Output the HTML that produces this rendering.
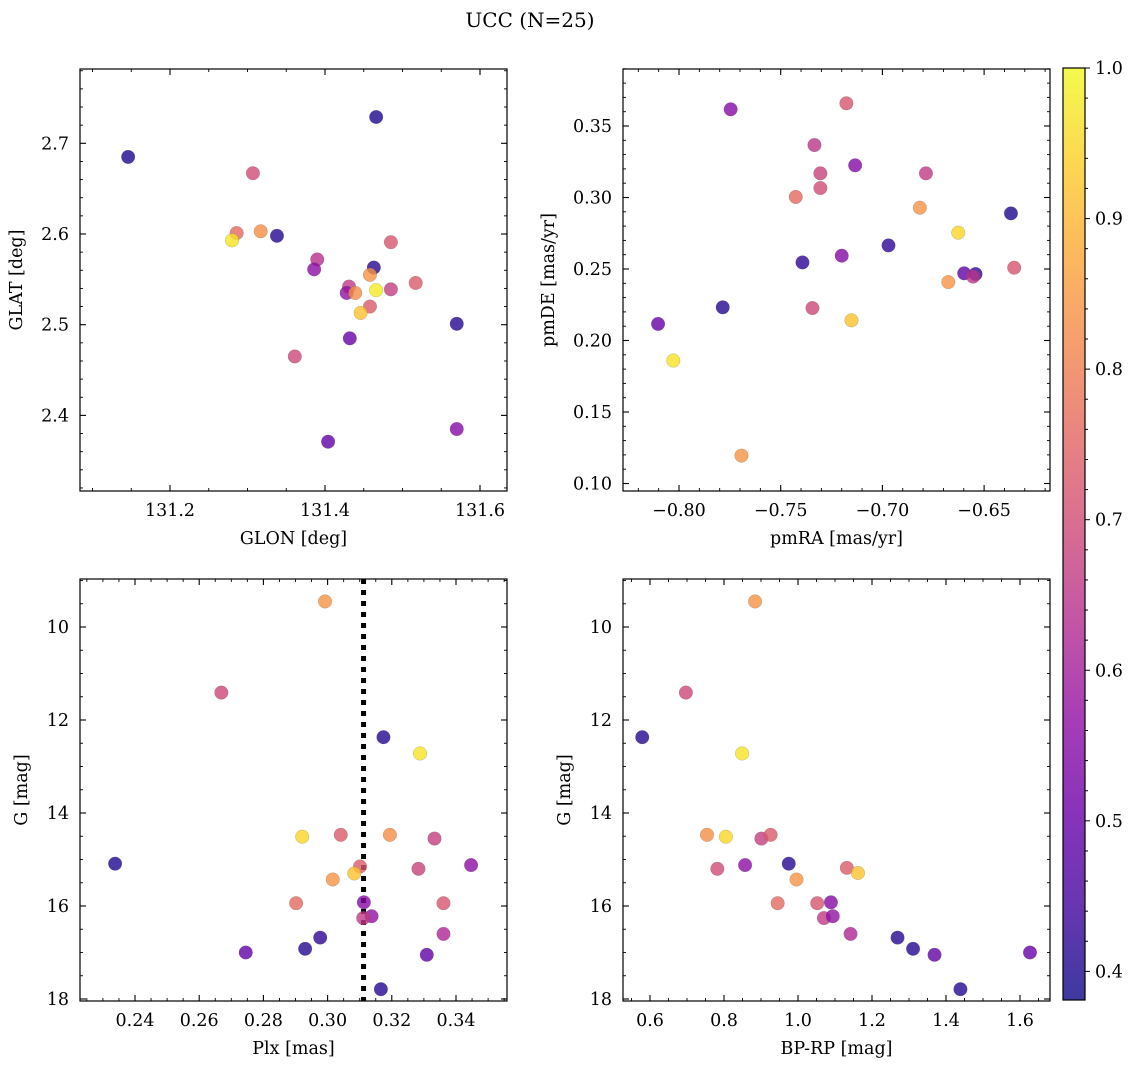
<!DOCTYPE html>
<html><head><meta charset="utf-8"><style>
body{margin:0;background:#fff;}
svg{display:block;font-family:"DejaVu Serif","Liberation Serif",serif;}
</style></head><body>
<svg id="fig" width="1136" height="1068" viewBox="0 0 1136 1068" xmlns="http://www.w3.org/2000/svg">
<text x="530" y="27" font-size="20" text-anchor="middle">UCC (N=25)</text>
<defs><linearGradient id="cbg" x1="0" y1="1" x2="0" y2="0"></linearGradient></defs>
</svg>
<script>
// Panel 1: GLON vs GLAT
const glon = [131.146,131.466,131.307,131.286,131.317,131.280,131.338,131.390,131.386,131.485,131.463,131.458,131.431,131.428,131.439,131.466,131.485,131.517,131.458,131.446,131.432,131.570,131.361,131.404,131.570];
const glat = [2.685,2.729,2.667,2.601,2.603,2.593,2.598,2.572,2.561,2.591,2.563,2.555,2.542,2.535,2.535,2.538,2.539,2.546,2.520,2.513,2.485,2.501,2.465,2.371,2.385];
const prob1 = [0.40,0.40,0.70,0.76,0.83,0.97,0.41,0.64,0.56,0.72,0.41,0.84,0.66,0.57,0.83,0.98,0.67,0.73,0.73,0.92,0.50,0.41,0.69,0.49,0.55];
// Panel 2: pmRA vs pmDE
const pmra = [-0.7746,-0.7177,-0.7334,-0.7134,-0.7305,-0.7305,-0.7426,-0.6786,-0.6816,-0.6368,-0.6627,-0.6970,-0.7200,-0.7393,-0.6598,-0.6542,-0.6554,-0.6352,-0.6676,-0.7785,-0.7344,-0.7152,-0.8103,-0.8028,-0.7693];
const pmde = [0.3617,0.3659,0.3367,0.3225,0.3169,0.3066,0.3004,0.3169,0.2929,0.2889,0.2754,0.2665,0.2593,0.2546,0.2470,0.2465,0.2447,0.2509,0.2409,0.2232,0.2227,0.2141,0.2116,0.1860,0.1195];
const prob2 = [0.55,0.72,0.65,0.55,0.68,0.70,0.76,0.66,0.84,0.40,0.95,0.42,0.55,0.42,0.49,0.42,0.65,0.72,0.84,0.41,0.69,0.92,0.50,0.97,0.84];
// Panel 3: Plx vs G
const plx = [0.2992,0.2669,0.3174,0.3288,0.2921,0.3041,0.3194,0.3333,0.2338,0.3101,0.3083,0.3283,0.3447,0.3016,0.2902,0.3113,0.3361,0.3137,0.3111,0.3361,0.2977,0.2930,0.2745,0.3309,0.3166];
const gmag3 = [9.45,11.41,12.37,12.72,14.51,14.47,14.47,14.55,15.09,15.15,15.30,15.20,15.12,15.43,15.94,15.92,15.94,16.22,16.26,16.60,16.68,16.92,17.00,17.05,17.79];
const prob3 = [0.84,0.69,0.41,0.97,0.95,0.73,0.83,0.67,0.40,0.73,0.92,0.68,0.56,0.84,0.76,0.55,0.72,0.57,0.66,0.62,0.42,0.41,0.49,0.49,0.41];
const plxRef = [0.3112];
// Panel 4: BP-RP vs G
const bprp = [0.884,0.697,0.579,0.849,0.754,0.805,0.901,0.926,0.782,0.857,0.975,1.132,1.162,0.996,0.945,1.052,1.089,1.070,1.094,1.142,1.269,1.311,1.369,1.627,1.439];
const gmag4 = [9.45,11.41,12.37,12.72,14.47,14.51,14.55,14.47,15.20,15.12,15.09,15.18,15.29,15.43,15.94,15.94,15.92,16.26,16.22,16.60,16.68,16.92,17.05,17.00,17.79];
const prob4 = [0.84,0.69,0.41,0.97,0.83,0.95,0.67,0.73,0.70,0.56,0.41,0.73,0.92,0.84,0.76,0.72,0.55,0.66,0.57,0.62,0.41,0.41,0.49,0.50,0.41];
// Tick labels
const ticks1x = [131.2,131.4,131.6], ticks1y = [2.4,2.5,2.6,2.7];
const ticks2x = [-0.80,-0.75,-0.70,-0.65], ticks2y = [0.10,0.15,0.20,0.25,0.30,0.35];
const ticks3x = [0.24,0.26,0.28,0.30,0.32,0.34], ticksGy = [10,12,14,16,18];
const ticks4x = [0.6,0.8,1.0,1.2,1.4,1.6];
const ticksCb = [0.4,0.5,0.6,0.7,0.8,0.9,1.0];
const VMIN = 0.381, VMAX = 1.0;

const NS = "http://www.w3.org/2000/svg";
const svg = document.getElementById('fig');
function mk(tag, attrs, parent){const e=document.createElementNS(NS,tag);for(const k in attrs)e.setAttribute(k,attrs[k]);(parent||svg).appendChild(e);return e;}

const stops=[[13,8,135],[65,4,157],[106,0,168],[143,13,164],[177,42,144],[204,71,120],[225,100,98],[242,132,75],[252,166,54],[252,206,37],[240,249,33]];
function plasma(v){let t=(v-VMIN)/(VMAX-VMIN);t=Math.max(0,Math.min(1,t))*10;const i=Math.min(9,Math.floor(t)),f=t-i;const a=stops[i],b=stops[i+1];return `rgb(${Math.round(a[0]+(b[0]-a[0])*f)},${Math.round(a[1]+(b[1]-a[1])*f)},${Math.round(a[2]+(b[2]-a[2])*f)})`;}

function fmt(v,d){return (v<0?'\u2212':'')+Math.abs(v).toFixed(d);}
const FS=17.5;

function panel(cfg){
  const g=mk('g',{});
  
  
  const {L,R,T,B,sx,sy}=cfg;
  const xmin=cfg.xmin,xmax=cfg.xmax,ymin=cfg.ymin,ymax=cfg.ymax;
  for(let v=Math.ceil(xmin/cfg.xminor-1e-9)*cfg.xminor; v<=xmax+1e-9; v+=cfg.xminor){const x=sx(v);if(x<L-0.5||x>R+0.5)continue;
    const isMaj=cfg.xt.some(m=>Math.abs(m-v)<cfg.xminor/10);const len=isMaj?6:3;
    const t1=mk('line',{x1:x,x2:x,y1:B,y2:B-len,stroke:'#000','stroke-width':isMaj?1.1:0.9},g);
    
    
    mk('line',{x1:x,x2:x,y1:T,y2:T+len,stroke:'#000','stroke-width':isMaj?1.1:0.9},g);}
  for(let v=Math.ceil(ymin/cfg.yminor-1e-9)*cfg.yminor; v<=ymax+1e-9; v+=cfg.yminor){const y=sy(v);if(y<T-0.5||y>B+0.5)continue;
    const isMaj=cfg.yt.some(m=>Math.abs(m-v)<cfg.yminor/10);const len=isMaj?6:3;
    const t2=mk('line',{x1:L,x2:L+len,y1:y,y2:y,stroke:'#000','stroke-width':isMaj?1.1:0.9},g);
    
    
    mk('line',{x1:R,x2:R-len,y1:y,y2:y,stroke:'#000','stroke-width':isMaj?1.1:0.9},g);}
  cfg.xt.forEach(v=>{const t=mk('text',{x:sx(v),y:B+25,'font-size':FS,'text-anchor':'middle'},g);t.textContent=fmt(v,cfg.xd);
    
    });
  cfg.yt.forEach(v=>{const t=mk('text',{x:L-11,y:sy(v)+6,'font-size':FS,'text-anchor':'end'},g);t.textContent=fmt(v,cfg.yd);
    
    });
  const xl=mk('text',{x:(L+R)/2,y:B+53,'font-size':FS,'text-anchor':'middle'},g);xl.textContent=cfg.xlabel;
  
  
  const yl=mk('text',{x:0,y:0,'font-size':FS,'text-anchor':'middle',transform:`translate(${cfg.ylx},${(T+B)/2}) rotate(-90)`},g);yl.textContent=cfg.ylabel;
  
  
  if(cfg.vline){cfg.vline.forEach(v=>{const l=mk('line',{x1:sx(v),x2:sx(v),y1:T,y2:B,stroke:'#000','stroke-width':5,'stroke-dasharray':'5,6'},g);
    
    });}
  cfg.xs.forEach((xv,i)=>{const c=mk('circle',{cx:sx(xv),cy:sy(cfg.ys[i]),r:6.8,fill:plasma(cfg.cs[i]),'fill-opacity':0.8,stroke:'rgba(80,80,80,0.35)','stroke-width':0.5},g);
    
    });
  const fr=mk('rect',{x:L,y:T,width:R-L,height:B-T,fill:'none',stroke:'#000','stroke-width':1.2},g);
  
  
}

const gY=v=>627+(v-10)*46.5;
panel({name:'glon-glat-panel',L:80,R:507,T:69,B:491,xmin:131.08,xmax:131.64,ymin:2.31,ymax:2.79,
  sx:v=>170+(v-131.2)*775,sy:v=>234-(v-2.6)*907,xt:ticks1x,yt:ticks1y,xminor:0.05,yminor:0.02,xd:1,yd:1,
  xlabel:'GLON [deg]',ylabel:'GLAT [deg]',ylx:22,xs:glon,ys:glat,cs:prob1});
panel({name:'pm-panel',L:623,R:1050,T:69,B:491,xmin:-0.83,xmax:-0.61,ymin:0.09,ymax:0.39,
  sx:v=>679+(v+0.80)*2034,sy:v=>126-(v-0.35)*1430,xt:ticks2x,yt:ticks2y,xminor:0.01,yminor:0.01,xd:2,yd:2,
  xlabel:'pmRA [mas/yr]',ylabel:'pmDE [mas/yr]',ylx:554,xs:pmra,ys:pmde,cs:prob2});
panel({name:'plx-g-panel',L:80,R:507,T:579,B:1001,xmin:0.22,xmax:0.36,ymin:8.9,ymax:18.1,
  sx:v=>135+(v-0.24)*3210,sy:gY,xt:ticks3x,yt:ticksGy,xminor:0.005,yminor:0.5,xd:2,yd:0,
  xlabel:'Plx [mas]',ylabel:'G [mag]',ylx:27,xs:plx,ys:gmag3,cs:prob3,vline:plxRef});
panel({name:'cmd-panel',L:623,R:1050,T:579,B:1001,xmin:0.5,xmax:1.7,ymin:8.9,ymax:18.1,
  sx:v=>650+(v-0.6)*370,sy:gY,xt:ticks4x,yt:ticksGy,xminor:0.05,yminor:0.5,xd:1,yd:0,
  xlabel:'BP-RP [mag]',ylabel:'G [mag]',ylx:570,xs:bprp,ys:gmag4,cs:prob4});

// colorbar
const grad=document.getElementById('cbg');
for(let i=0;i<=10;i++){const v=VMIN+(VMAX-VMIN)*i/10;mk('stop',{offset:i/10,'stop-color':plasma(v),'stop-opacity':0.8},grad);}
const cbT=68,cbB=1000,cbL=1063,cbR=1085;
const cy=v=>cbB-(v-VMIN)/(VMAX-VMIN)*(cbB-cbT);
const cb=mk('rect',{x:cbL,y:cbT,width:cbR-cbL,height:cbB-cbT,fill:'url(#cbg)',stroke:'#000','stroke-width':1.2});


for(let v=0.4;v<=1.0001;v+=0.02){const y=cy(v);const maj=ticksCb.some(m=>Math.abs(m-v)<0.001);
  mk('line',{x1:cbR,x2:cbR+(maj?5:3),y1:y,y2:y,stroke:'#000','stroke-width':1});}
ticksCb.forEach(v=>{const t=mk('text',{x:cbR+10,y:cy(v)+6,'font-size':FS});t.textContent=v.toFixed(1);
  
  });
</script>
</body></html>
